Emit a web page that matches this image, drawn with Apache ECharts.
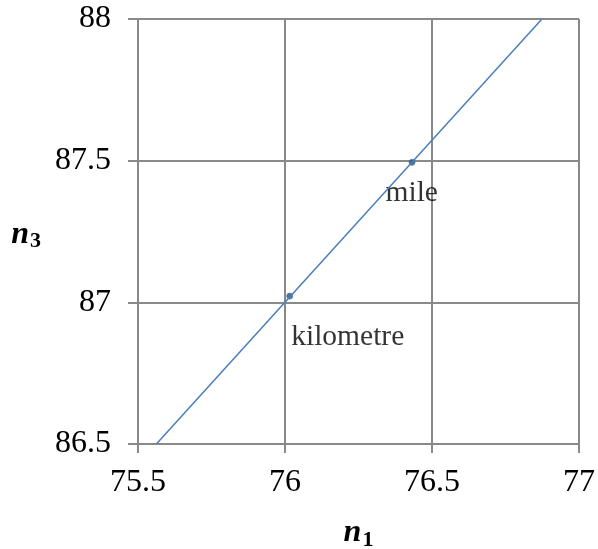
<!DOCTYPE html>
<html><head><meta charset="utf-8">
<script src="https://cdn.jsdelivr.net/npm/echarts@6/dist/echarts.min.js"></script>
<style>html,body{margin:0;padding:0;background:#fff}#c{width:598px;height:549px}</style>
</head><body><div id="c"></div>
<script>
var xTicks = [75.5, 76, 76.5, 77];
var yTicks = [86.5, 87, 87.5, 88];
var pointNames = ['kilometre', 'mile'];
var pointN1 = [76.016, 76.432];
var pointN3 = [87.022, 87.494];
var trendN1 = [75.5625, 76.874];
var trendN3 = [86.5, 88];

var chart = echarts.init(document.getElementById('c'));
var font = 'Liberation Serif';
var gridColor = '#898989';
var labelPos = [[5, 45], [-23, 34]];
var nameRich = {
  n: {fontFamily: font, fontSize: 32, fontWeight: 'bold', fontStyle: 'italic', color: '#000'},
  s: {fontFamily: font, fontSize: 22, fontWeight: 'bold', color: '#000', verticalAlign: 'bottom', padding: [14,0,0,1]}
};
chart.setOption({
  animation: false,
  grid: {left: 138, right: 19, top: 19, bottom: 105, containLabel: false, outerBoundsMode: 'none'},
  xAxis: {
    type: 'value', min: xTicks[0], max: xTicks[xTicks.length-1], interval: 0.5,
    axisLine: {show: true, lineStyle: {color: gridColor, width: 2}},
    axisTick: {show: true, inside: false, length: 9, lineStyle: {color: gridColor, width: 2}},
    splitLine: {show: true, lineStyle: {color: gridColor, width: 2}},
    axisLabel: {color: '#000', fontFamily: font, fontSize: 32, margin: 23},
    name: '{n|n}{s|1}', nameLocation: 'middle', nameGap: 71,
    nameTextStyle: {rich: nameRich}
  },
  yAxis: {
    type: 'value', min: yTicks[0], max: yTicks[yTicks.length-1], interval: 0.5,
    axisLine: {show: true, lineStyle: {color: gridColor, width: 2}},
    axisTick: {show: true, inside: false, length: 10, lineStyle: {color: gridColor, width: 2}},
    splitLine: {show: true, lineStyle: {color: gridColor, width: 2}},
    axisLabel: {color: '#000', fontFamily: font, fontSize: 32, margin: 27},
    name: '{n|n}{s|3}', nameLocation: 'middle', nameGap: 97, nameRotate: 0,
    nameTextStyle: {rich: nameRich, padding: [6,0,0,0]}
  },
  series: [
    {
      type: 'line', symbol: 'none', silent: true,
      data: trendN1.map(function(x, i){ return [x, trendN3[i]]; }),
      lineStyle: {color: '#4a7ebb', width: 1.5}
    },
    {
      type: 'scatter', symbol: 'circle', symbolSize: 6,
      itemStyle: {color: '#2c4d75', borderColor: '#4a7ebb', borderWidth: 1},
      data: pointN1.map(function(x, i){
        return {value: [x, pointN3[i]], name: pointNames[i],
          label: {show: true, formatter: pointNames[i], position: labelPos[i], align: 'left', verticalAlign: 'middle',
                  fontFamily: font, fontSize: 29.5, color: '#000'}};
      })
    }
  ]
});
</script></body></html>
